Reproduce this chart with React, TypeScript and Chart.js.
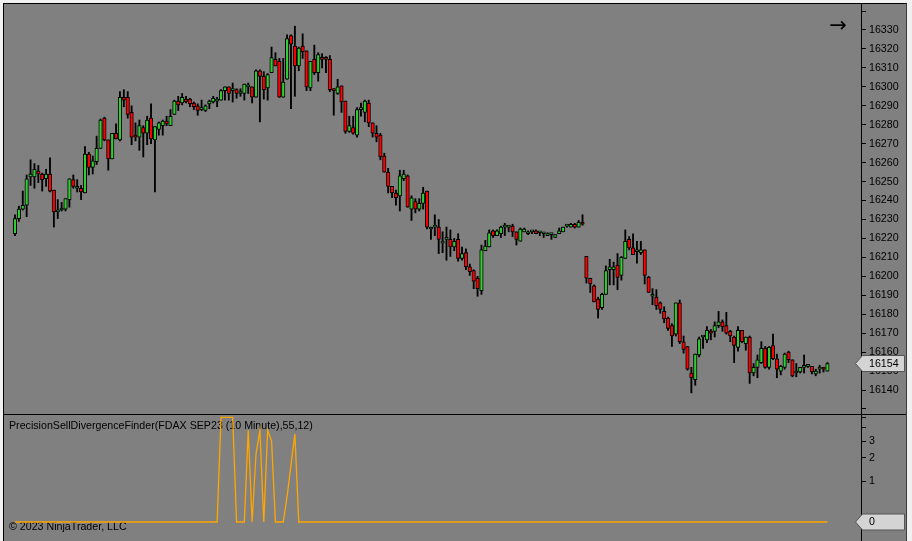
import React, { useEffect, useRef } from 'react';
import { Chart, registerables } from 'chart.js';

Chart.register(...registerables);

// ---------- data (10-minute FDAX SEP23 candles, 210 bars) ----------
const opens = [
  16222.5, 16230.5, 16235.5, 16237.5, 16252.5, 16252.5, 16255.5, 16254, 16251.5, 16254,
  16245.5, 16234, 16235, 16235.5, 16240.5, 16251, 16246.5, 16246.5, 16244, 16264.5,
  16257.5, 16260.5, 16267.5, 16283.5, 16272, 16262, 16275.5, 16272, 16294.5, 16294.5,
  16286.5, 16274.5, 16273.5, 16278.5, 16275.5, 16283.5, 16272, 16277.5, 16279.5, 16282,
  16279.5, 16285.5, 16292.5, 16291.5, 16293.5, 16293.5, 16291.5, 16290, 16288, 16287.5,
  16291, 16292, 16292.5, 16293, 16298, 16300, 16298, 16298.5, 16296.5, 16296.5,
  16300, 16300, 16294.5, 16308.5, 16305.5, 16299.5, 16307.5, 16314.5, 16313.5, 16294.5,
  16304, 16327, 16321.5, 16311, 16321.5, 16319, 16299.5, 16314.5, 16307.5, 16315.5,
  16315.5, 16314.5, 16299, 16296.5, 16300.5, 16292.5, 16276.5, 16278.5, 16274.5, 16288,
  16286.5, 16291.5, 16281, 16275.5, 16274.5, 16263.5, 16255, 16247.5, 16244, 16242.5,
  16251.5, 16253, 16235.5, 16239.5, 16235.5, 16238.5, 16245, 16225, 16226, 16226,
  16217.5, 16219.5, 16219.5, 16215.5, 16219.5, 16209.5, 16212.5, 16205, 16203, 16199,
  16192.5, 16213.5, 16215.5, 16224, 16221.5, 16222.5, 16226, 16226, 16226.5, 16223.5,
  16218.5, 16223.5, 16222.5, 16223.5, 16224, 16223, 16222.5, 16221.5, 16222, 16220.5,
  16222.5, 16223.5, 16226.5, 16226, 16227.5, 16226, 16228.5, 16210.5, 16199, 16195,
  16188, 16183.5, 16190.5, 16203.5, 16203.5, 16206, 16200.5, 16209.5, 16219.5, 16215,
  16213, 16212.5, 16214, 16199.5, 16189.5, 16189, 16186, 16181.5, 16178, 16174,
  16169.5, 16186, 16165.5, 16163, 16149, 16145.5, 16158.5, 16168, 16166.5, 16171,
  16171, 16174, 16176, 16174, 16171, 16168, 16162.5, 16171.5, 16164.5, 16168,
  16149, 16152, 16154.5, 16162, 16152, 16163.5, 16156.5, 16150, 16152, 16160,
  16156, 16149, 16149.5, 16152, 16152.5, 16152.5, 16148.5, 16151, 16152, 16150,
];

const highs = [
  16232.5, 16237, 16245, 16253.5, 16261.5, 16259.5, 16258.5, 16254.5, 16256.5, 16262.5,
  16245.5, 16240.5, 16239, 16241, 16251.5, 16253.5, 16251, 16248, 16268.5, 16265.5,
  16263.5, 16274, 16283, 16284, 16272, 16275.5, 16280.5, 16297.5, 16298.5, 16297.5,
  16290, 16281, 16282.5, 16279.5, 16284.5, 16291, 16279, 16281.5, 16282.5, 16284.5,
  16288, 16293, 16295, 16296.5, 16295, 16294, 16292, 16291, 16293, 16290.5,
  16293, 16295, 16294.5, 16298.5, 16300, 16300, 16302, 16299, 16299, 16301.5,
  16302, 16300, 16309, 16309, 16308, 16307, 16321, 16318, 16315, 16315,
  16327.5, 16327.5, 16332, 16321, 16328, 16319, 16313.5, 16322, 16318, 16317.5,
  16316, 16316.5, 16299, 16304, 16300.5, 16292.5, 16284.5, 16284.5, 16289, 16291.5,
  16293, 16293, 16281, 16279.5, 16275.5, 16265, 16257, 16247.5, 16245.5, 16256,
  16256, 16253.5, 16242.5, 16241, 16241, 16247, 16245, 16226, 16232.5, 16230,
  16223.5, 16226, 16224.5, 16220, 16222.5, 16215.5, 16214.5, 16206.5, 16203.5, 16200,
  16216.5, 16219, 16224.5, 16224.5, 16224.5, 16226.5, 16228, 16226, 16227.5, 16223.5,
  16225.5, 16225.5, 16224, 16224, 16224.5, 16223.5, 16223, 16223, 16222.5, 16222,
  16225.5, 16226, 16227, 16228, 16228, 16229.5, 16232.5, 16210.5, 16199, 16195.5,
  16189, 16191, 16205.5, 16209, 16207.5, 16212, 16210.5, 16224.5, 16221, 16222.5,
  16218.5, 16218.5, 16214, 16200, 16193.5, 16193, 16186.5, 16184, 16178.5, 16175,
  16186, 16187.5, 16168.5, 16163, 16152, 16159, 16168, 16168, 16173.5, 16172,
  16176, 16181.5, 16177, 16181, 16171.5, 16168.5, 16173.5, 16171.5, 16168, 16168.5,
  16154, 16158.5, 16165.5, 16163, 16163, 16169.5, 16159, 16153, 16159.5, 16160.5,
  16156, 16154, 16152, 16158.5, 16153.5, 16152.5, 16151, 16153, 16152, 16154.5,
];

const lows = [
  16221.5, 16229, 16235, 16231.5, 16248, 16246.5, 16249.5, 16245, 16247.5, 16244.5,
  16226, 16230.5, 16234.5, 16234.5, 16236.5, 16246.5, 16244.5, 16240.5, 16244, 16253.5,
  16254, 16259, 16267.5, 16271.5, 16256, 16262, 16272.5, 16271.5, 16289.5, 16283.5,
  16269.5, 16271.5, 16266.5, 16263, 16269.5, 16270, 16244.5, 16274.5, 16274.5, 16279.5,
  16279.5, 16285.5, 16287.5, 16290.5, 16291.5, 16289.5, 16288, 16285, 16287.5, 16287,
  16288.5, 16291.5, 16289.5, 16293, 16293, 16293, 16292, 16294, 16295, 16293,
  16296.5, 16291.5, 16294.5, 16281.5, 16293.5, 16293, 16307.5, 16311, 16294.5, 16294.5,
  16304, 16288.5, 16295, 16308.5, 16315, 16298, 16298, 16306.5, 16303, 16310,
  16307.5, 16297.5, 16285, 16296, 16286.5, 16275.5, 16276, 16275, 16273.5, 16284.5,
  16281.5, 16279, 16273.5, 16271, 16261.5, 16255, 16244, 16241.5, 16237.5, 16234.5,
  16250.5, 16236.5, 16229.5, 16233.5, 16234.5, 16235.5, 16225, 16219.5, 16221.5, 16212,
  16212.5, 16208.5, 16210.5, 16213.5, 16208, 16208.5, 16203.5, 16200.5, 16193.5, 16189.5,
  16190.5, 16213.5, 16215.5, 16220.5, 16221.5, 16220.5, 16221.5, 16223.5, 16221, 16216.5,
  16218.5, 16223.5, 16222, 16222.5, 16222.5, 16221.5, 16220.5, 16221.5, 16219.5, 16220.5,
  16222.5, 16223.5, 16226, 16226, 16225.5, 16226, 16227, 16196.5, 16191.5, 16186.5,
  16178, 16182.5, 16190.5, 16195.5, 16195.5, 16193, 16198, 16209.5, 16214, 16211.5,
  16207, 16211.5, 16196, 16191.5, 16185, 16182.5, 16180.5, 16175.5, 16171.5, 16163,
  16168.5, 16164.5, 16159.5, 16150.5, 16138.5, 16142.5, 16157.5, 16162, 16165, 16166.5,
  16168, 16173, 16171, 16169.5, 16165.5, 16154.5, 16160.5, 16165, 16161, 16143.5,
  16147.5, 16146.5, 16154, 16151.5, 16151, 16156, 16146.5, 16148, 16151, 16154.5,
  16147, 16147, 16149, 16149, 16152, 16148.5, 16147.5, 16149, 16149.5, 16150,
];

const closes = [
  16230.5, 16235.5, 16237.5, 16251.5, 16254, 16256.5, 16254, 16251, 16254, 16245,
  16234, 16235, 16235, 16241, 16251.5, 16247.5, 16247.5, 16244.5, 16264.5, 16257.5,
  16261, 16267.5, 16282.5, 16272, 16262, 16275.5, 16272.5, 16294.5, 16293, 16285.5,
  16273.5, 16273.5, 16279.5, 16275.5, 16282.5, 16272.5, 16279, 16281, 16282, 16280.5,
  16284.5, 16292.5, 16290.5, 16294.5, 16292, 16291, 16289.5, 16287.5, 16288, 16290,
  16292.5, 16294, 16293, 16298, 16300, 16296.5, 16298, 16296.5, 16296.5, 16301.5,
  16300, 16294.5, 16308.5, 16305.5, 16298.5, 16306.5, 16315.5, 16311, 16294.5, 16302.5,
  16325.5, 16322.5, 16311, 16320.5, 16318.5, 16300, 16313.5, 16307.5, 16317, 16314.5,
  16314.5, 16298.5, 16298, 16300, 16292, 16276.5, 16279.5, 16275.5, 16288, 16288,
  16292.5, 16281, 16275.5, 16273.5, 16263, 16255, 16247.5, 16244, 16241.5, 16253,
  16254, 16236.5, 16241.5, 16235.5, 16238.5, 16244, 16226, 16226, 16226, 16219.5,
  16217.5, 16220.5, 16215.5, 16218.5, 16209.5, 16212, 16205, 16202.5, 16197.5, 16193.5,
  16214, 16216, 16223, 16221.5, 16224, 16226, 16226, 16226, 16223.5, 16219.5,
  16225, 16225, 16223.5, 16223.5, 16222.5, 16223, 16222.5, 16222.5, 16222, 16222,
  16224, 16226, 16226.5, 16227.5, 16226, 16228.5, 16227.5, 16199, 16196, 16186.5,
  16182.5, 16190.5, 16203, 16205, 16205, 16199.5, 16210, 16218.5, 16215, 16211.5,
  16213, 16214, 16200.5, 16191.5, 16189.5, 16184.5, 16182.5, 16177.5, 16172.5, 16168.5,
  16186, 16165.5, 16161.5, 16151, 16146.5, 16159, 16167, 16168, 16171.5, 16170,
  16174, 16176, 16173.5, 16170, 16168.5, 16163.5, 16171.5, 16165.5, 16168, 16149,
  16152, 16156, 16162, 16152, 16162.5, 16156.5, 16151, 16152.5, 16159, 16156,
  16147.5, 16150, 16152, 16152, 16153.5, 16149.5, 16150, 16152, 16151, 16154,
];

// PrecisionSellDivergenceFinder plot values, one per bar
const sellSignal = [
  0, 0, 0, 0, 0, 0, 0, 0, 0, 0,
  0, 0, 0, 0, 0, 0, 0, 0, 0, 0,
  0, 0, 0, 0, 0, 0, 0, 0, 0, 0,
  0, 0, 0, 0, 0, 0, 0, 0, 0, 0,
  0, 0, 0, 0, 0, 0, 0, 0, 0, 0,
  0, 0, 0, 5, 5, 5, 5, 0, 0, 0,
  3.8, 0, 2.2, 3.8, 0, 3.8, 3, 0, 0, 0,
  0.55, 1.65, 3.5, 0, 0, 0, 0, 0, 0, 0,
  0, 0, 0, 0, 0, 0, 0, 0, 0, 0,
  0, 0, 0, 0, 0, 0, 0, 0, 0, 0,
  0, 0, 0, 0, 0, 0, 0, 0, 0, 0,
  0, 0, 0, 0, 0, 0, 0, 0, 0, 0,
  0, 0, 0, 0, 0, 0, 0, 0, 0, 0,
  0, 0, 0, 0, 0, 0, 0, 0, 0, 0,
  0, 0, 0, 0, 0, 0, 0, 0, 0, 0,
  0, 0, 0, 0, 0, 0, 0, 0, 0, 0,
  0, 0, 0, 0, 0, 0, 0, 0, 0, 0,
  0, 0, 0, 0, 0, 0, 0, 0, 0, 0,
  0, 0, 0, 0, 0, 0, 0, 0, 0, 0,
  0, 0, 0, 0, 0, 0, 0, 0, 0, 0,
  0, 0, 0, 0, 0, 0, 0, 0, 0, 0,
];

const priceTicks = [
  16130, 16140, 16150, 16160, 16170, 16180, 16190, 16200, 16210, 16220, 16230,
  16240, 16250, 16260, 16270, 16280, 16290, 16300, 16310, 16320, 16330, 16340,
];
const priceTickLabels = [
  '', '16140', '16150', '16160', '16170', '16180', '16190', '16200', '16210', '16220', '16230',
  '16240', '16250', '16260', '16270', '16280', '16290', '16300', '16310', '16320', '16330', '',
];
const signalTicks = [0, 1, 2, 3, 4, 5];
const signalTickLabels = ['', '1', '2', '3', '', ''];

const indicatorTitle = 'PrecisionSellDivergenceFinder(FDAX SEP23 (10 Minute),55,12)';
const copyright = '\u00A9 2023 NinjaTrader, LLC';

// ---------- styling ----------
const UP = '#32CD32';
const DOWN = '#FF0000';
const X_MIN = -1.83;
const X_MAX = 218.64;
const PRICE_MIN = 16127.36;
const PRICE_MAX = 16343.72;
const SIG_MIN = -0.469;
const SIG_MAX = 2.642;
const FONT = "'Liberation Sans', Arial, sans-serif";
const FS = 10.67;
const AXIS_W = 45;

const toT = (v: number) => Math.log2(1 + v);

function drawMarker(ctx: CanvasRenderingContext2D, yc: number, text: string) {
  const h = 8;
  ctx.save();
  ctx.beginPath();
  ctx.moveTo(855.5, yc);
  ctx.lineTo(862.5, yc - h);
  ctx.lineTo(904.5, yc - h);
  ctx.lineTo(904.5, yc + h);
  ctx.lineTo(862.5, yc + h);
  ctx.closePath();
  ctx.fillStyle = '#d4d4d4';
  ctx.fill();
  ctx.strokeStyle = '#555555';
  ctx.lineWidth = 1;
  ctx.stroke();
  ctx.fillStyle = '#000';
  ctx.font = `${FS}px ${FONT}`;
  ctx.textAlign = 'left';
  ctx.textBaseline = 'middle';
  ctx.fillText(text, 869, yc + 0.5);
  ctx.restore();
}

function rightAxis(min: number, max: number, ticks: number[], labels: string[]) {
  return {
    position: 'right' as const,
    min,
    max,
    afterFit: (s: any) => {
      s.width = AXIS_W;
      s.paddingTop = 0;
      s.paddingBottom = 0;
    },
    afterBuildTicks: (s: any) => {
      s.ticks = ticks.map((v) => ({ value: v }));
    },
    ticks: {
      autoSkip: false,
      color: '#000',
      padding: 3,
      font: { family: FONT, size: FS },
      callback: (_v: any, i: number) => labels[i],
    },
    grid: { drawOnChartArea: false, drawTicks: true, tickLength: 5, color: '#000', lineWidth: 1 },
    border: { display: true, color: '#000', width: 1 },
  };
}

export default function App() {
  const topRef = useRef<HTMLCanvasElement>(null);
  const botRef = useRef<HTMLCanvasElement>(null);

  useEffect(() => {
    const bodies = opens.map((o, i) => ({ x: i + 1, y: [o, closes[i]] }));
    const wicks = lows.map((l, i) => ({ x: i + 1, y: [l, highs[i]] }));
    const bodyColors = opens.map((o, i) => (closes[i] >= o ? UP : DOWN));
    const lastClose = closes[closes.length - 1];

    const topOverlay = {
      id: 'topOverlay',
      afterDraw(chart: any) {
        const ctx = chart.ctx as CanvasRenderingContext2D;
        ctx.save();
        ctx.fillStyle = '#000';
        ctx.font = "21px 'DejaVu Sans'";
        ctx.textAlign = 'center';
        ctx.textBaseline = 'middle';
        ctx.fillText('\u2192', 838, 27);
        ctx.restore();
        const y = chart.scales.y.getPixelForValue(lastClose);
        drawMarker(ctx, y, String(Math.round(lastClose)));
      },
    };

    const top = new Chart(topRef.current as HTMLCanvasElement, {
      type: 'bar',
      data: {
        datasets: [
          {
            label: 'body',
            data: bodies as any,
            backgroundColor: bodyColors,
            borderColor: '#000',
            borderWidth: 1,
            borderSkipped: false,
            barThickness: 3.5,
            minBarLength: 2,
            grouped: false,
          } as any,
          {
            label: 'wick',
            data: wicks as any,
            backgroundColor: '#000',
            borderWidth: 0,
            barThickness: 1.2,
            grouped: false,
          } as any,
        ],
      },
      options: {
        responsive: false,
        animation: false,
        devicePixelRatio: 1,
        layout: { padding: { left: 4, right: 6, top: 4, bottom: 0 } },
        plugins: { legend: { display: false }, tooltip: { enabled: false } },
        scales: {
          x: { type: 'linear', min: X_MIN, max: X_MAX, display: false, offset: false },
          y: rightAxis(PRICE_MIN, PRICE_MAX, priceTicks, priceTickLabels) as any,
        },
      },
      plugins: [topOverlay],
    });

    const botOverlay = {
      id: 'botOverlay',
      beforeDatasetsDraw(chart: any) {
        const ctx = chart.ctx as CanvasRenderingContext2D;
        ctx.save();
        ctx.fillStyle = '#000';
        ctx.font = `${FS}px ${FONT}`;
        ctx.textAlign = 'left';
        ctx.textBaseline = 'middle';
        ctx.fillText(indicatorTitle, 9, 12.5);
        ctx.fillText(copyright, 9, 113);
        ctx.restore();
      },
      afterDraw(chart: any) {
        const ctx = chart.ctx as CanvasRenderingContext2D;
        ctx.save();
        ctx.strokeStyle = '#000';
        ctx.lineWidth = 1;
        ctx.beginPath();
        ctx.moveTo(4, 0.5);
        ctx.lineTo(906, 0.5);
        ctx.stroke();
        ctx.restore();
        const last = sellSignal[sellSignal.length - 1];
        const y = chart.scales.y.getPixelForValue(toT(last));
        drawMarker(ctx, y, String(last));
      },
    };

    const bot = new Chart(botRef.current as HTMLCanvasElement, {
      type: 'line',
      data: {
        datasets: [
          {
            label: 'PrecisionSellDivergenceFinder',
            data: sellSignal.map((v, i) => ({ x: i + 1, y: toT(v) })),
            borderColor: '#FFA500',
            borderWidth: 1.3,
            pointRadius: 0,
            tension: 0,
            fill: false,
          },
        ],
      },
      options: {
        responsive: false,
        animation: false,
        devicePixelRatio: 1,
        layout: { padding: { left: 4, right: 6, top: 1, bottom: 0 } },
        plugins: { legend: { display: false }, tooltip: { enabled: false } },
        scales: {
          x: { type: 'linear', min: X_MIN, max: X_MAX, display: false, offset: false },
          y: rightAxis(SIG_MIN, SIG_MAX, signalTicks.map(toT), signalTickLabels) as any,
        },
      },
      plugins: [botOverlay],
    });

    return () => {
      top.destroy();
      bot.destroy();
    };
  }, []);

  return (
    <div
      style={{
        position: 'fixed',
        left: 0,
        top: 0,
        width: 912,
        height: 541,
        background: '#f0f0f0',
        overflow: 'hidden',
      }}
    >
      <div
        style={{
          position: 'absolute',
          left: 3,
          top: 3,
          width: 904,
          height: 538,
          boxSizing: 'border-box',
          background: '#808080',
          borderLeft: '1px solid #000',
          borderTop: '1px solid #000',
          borderRight: '1px solid #3c3c3c',
        }}
      />
      <canvas
        ref={topRef}
        width={912}
        height={414}
        style={{ position: 'absolute', left: 0, top: 0, width: 912, height: 414 }}
      />
      <canvas
        ref={botRef}
        width={912}
        height={127}
        style={{ position: 'absolute', left: 0, top: 414, width: 912, height: 127 }}
      />
    </div>
  );
}
